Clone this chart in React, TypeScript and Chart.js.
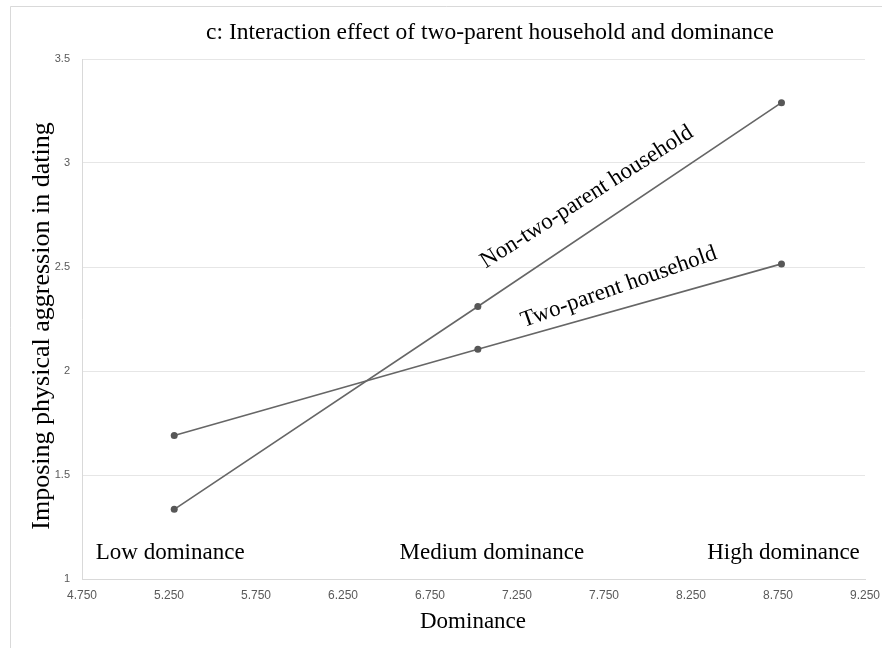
import React, { useEffect, useRef } from "react";
import { Chart, registerables } from "chart.js";

Chart.register(...registerables);

const dominanceLevels = [5.28, 7.025, 8.77];
const twoParent = [1.69, 2.105, 2.515];
const nonTwoParent = [1.335, 2.31, 3.29];
const xTicks = [4.75, 5.25, 5.75, 6.25, 6.75, 7.25, 7.75, 8.25, 8.75, 9.25];
const yTicks = [1, 1.5, 2, 2.5, 3, 3.5];
const levelLabels = ["Low dominance", "Medium dominance", "High dominance"];
const seriesLabels = ["Two-parent household", "Non-two-parent household"];
const titleText = "c: Interaction effect of two-parent household and dominance";
const xTitle = "Dominance";
const yTitle = "Imposing physical aggression in dating";

const SERIF = '"Liberation Serif", "Times New Roman", serif';
const SANS = '"Liberation Sans", "Open Sans", sans-serif';

const textPlugin = {
  id: "textPlugin",
  beforeDraw(chart: any) {
    const ctx = chart.ctx;
    ctx.save();
    ctx.fillStyle = "#ffffff";
    ctx.fillRect(0, 0, chart.width, chart.height);
    ctx.strokeStyle = "#d9d9d9";
    ctx.lineWidth = 1;
    ctx.beginPath();
    ctx.moveTo(10.5, chart.height);
    ctx.lineTo(10.5, 6.5);
    ctx.lineTo(chart.width, 6.5);
    ctx.stroke();
    ctx.restore();
  },
  afterDraw(chart: any) {
    const ctx = chart.ctx;
    const xs = chart.scales.x;
    const ys = chart.scales.y;
    const area = chart.chartArea;
    ctx.save();
    ctx.fillStyle = "#000000";
    // title
    ctx.font = `23.5px ${SERIF}`;
    ctx.textAlign = "center";
    ctx.textBaseline = "alphabetic";
    ctx.fillText(titleText, 490, 39);
    // x title
    ctx.font = `23px ${SERIF}`;
    ctx.fillText(xTitle, 473, 628);
    // y title
    ctx.save();
    ctx.translate(49, 326);
    ctx.rotate(-Math.PI / 2);
    ctx.font = `26px ${SERIF}`;
    ctx.fillText(yTitle, 0, 0);
    ctx.restore();
    // level labels
    ctx.font = `23px ${SERIF}`;
    const offs = [-4, 14, 2];
    levelLabels.forEach((t, i) => {
      const px = xs.getPixelForValue(dominanceLevels[i]) + offs[i];
      ctx.fillText(t, px, area.bottom - 20);
    });
    // series labels
    const mx = xs.getPixelForValue(dominanceLevels[1]);
    const myNon = ys.getPixelForValue(nonTwoParent[1]);
    const myTwo = ys.getPixelForValue(twoParent[1]);
    ctx.textAlign = "left";
    ctx.save();
    ctx.translate(mx + 8, myNon - 38);
    ctx.rotate((-32.5 * Math.PI) / 180);
    ctx.fillText(seriesLabels[1], 0, 0);
    ctx.restore();
    ctx.save();
    ctx.translate(mx + 46, myTwo - 22);
    ctx.rotate((-19.5 * Math.PI) / 180);
    ctx.fillText(seriesLabels[0], 0, 0);
    ctx.restore();
    ctx.restore();
  },
};

export default function App() {
  const ref = useRef<HTMLCanvasElement>(null);
  useEffect(() => {
    if (!ref.current) return;
    const lineColor = "#666666";
    const pointColor = "#575757";
    const chart = new Chart(ref.current, {
      type: "line",
      data: {
        datasets: [
          {
            label: seriesLabels[0],
            data: dominanceLevels.map((x, i) => ({ x, y: twoParent[i] })),
            borderColor: lineColor,
            backgroundColor: pointColor,
            borderWidth: 1.6,
            pointRadius: 3.5,
            pointBorderWidth: 0,
            pointBackgroundColor: pointColor,
          },
          {
            label: seriesLabels[1],
            data: dominanceLevels.map((x, i) => ({ x, y: nonTwoParent[i] })),
            borderColor: lineColor,
            backgroundColor: pointColor,
            borderWidth: 1.6,
            pointRadius: 3.5,
            pointBorderWidth: 0,
            pointBackgroundColor: pointColor,
          },
        ],
      },
      options: {
        responsive: false,
        animation: false,
        layout: { padding: { left: 0, right: 17, top: 59, bottom: 0 } },
        plugins: {
          legend: { display: false },
          title: { display: false },
          tooltip: { enabled: false },
        },
        scales: {
          x: {
            type: "linear",
            min: 4.75,
            max: 9.25,
            afterBuildTicks: (s: any) => {
              s.ticks = xTicks.map((v) => ({ value: v }));
            },
            afterFit: (s: any) => {
              s.height = 69;
              s.paddingLeft = 0;
              s.paddingRight = 0;
            },
            grid: { display: false, drawTicks: false },
            border: { display: true, color: "#d9d9d9", width: 1 },
            ticks: {
              padding: 9,
              maxRotation: 0,
              autoSkip: false,
              color: "#595959",
              font: { family: SANS, size: 12 },
              callback: (v: any) => Number(v).toFixed(3),
            },
          },
          y: {
            type: "linear",
            min: 1,
            max: 3.5,
            afterBuildTicks: (s: any) => {
              s.ticks = yTicks.map((v) => ({ value: v }));
            },
            afterFit: (s: any) => {
              s.width = 82;
              s.paddingTop = 0;
              s.paddingBottom = 0;
            },
            grid: { display: true, color: "#e6e6e6", lineWidth: 1, drawTicks: false },
            border: { display: true, color: "#d9d9d9", width: 1 },
            ticks: {
              padding: 12,
              autoSkip: false,
              color: "#595959",
              font: { family: SANS, size: 11 },
              callback: (v: any) => String(v),
            },
          },
        },
      },
      plugins: [textPlugin],
    });
    return () => chart.destroy();
  }, []);
  return (
    <div style={{ position: "absolute", left: 0, top: 0, width: 882, height: 648, background: "#fff" }}>
      <canvas ref={ref} width={882} height={648} />
    </div>
  );
}
